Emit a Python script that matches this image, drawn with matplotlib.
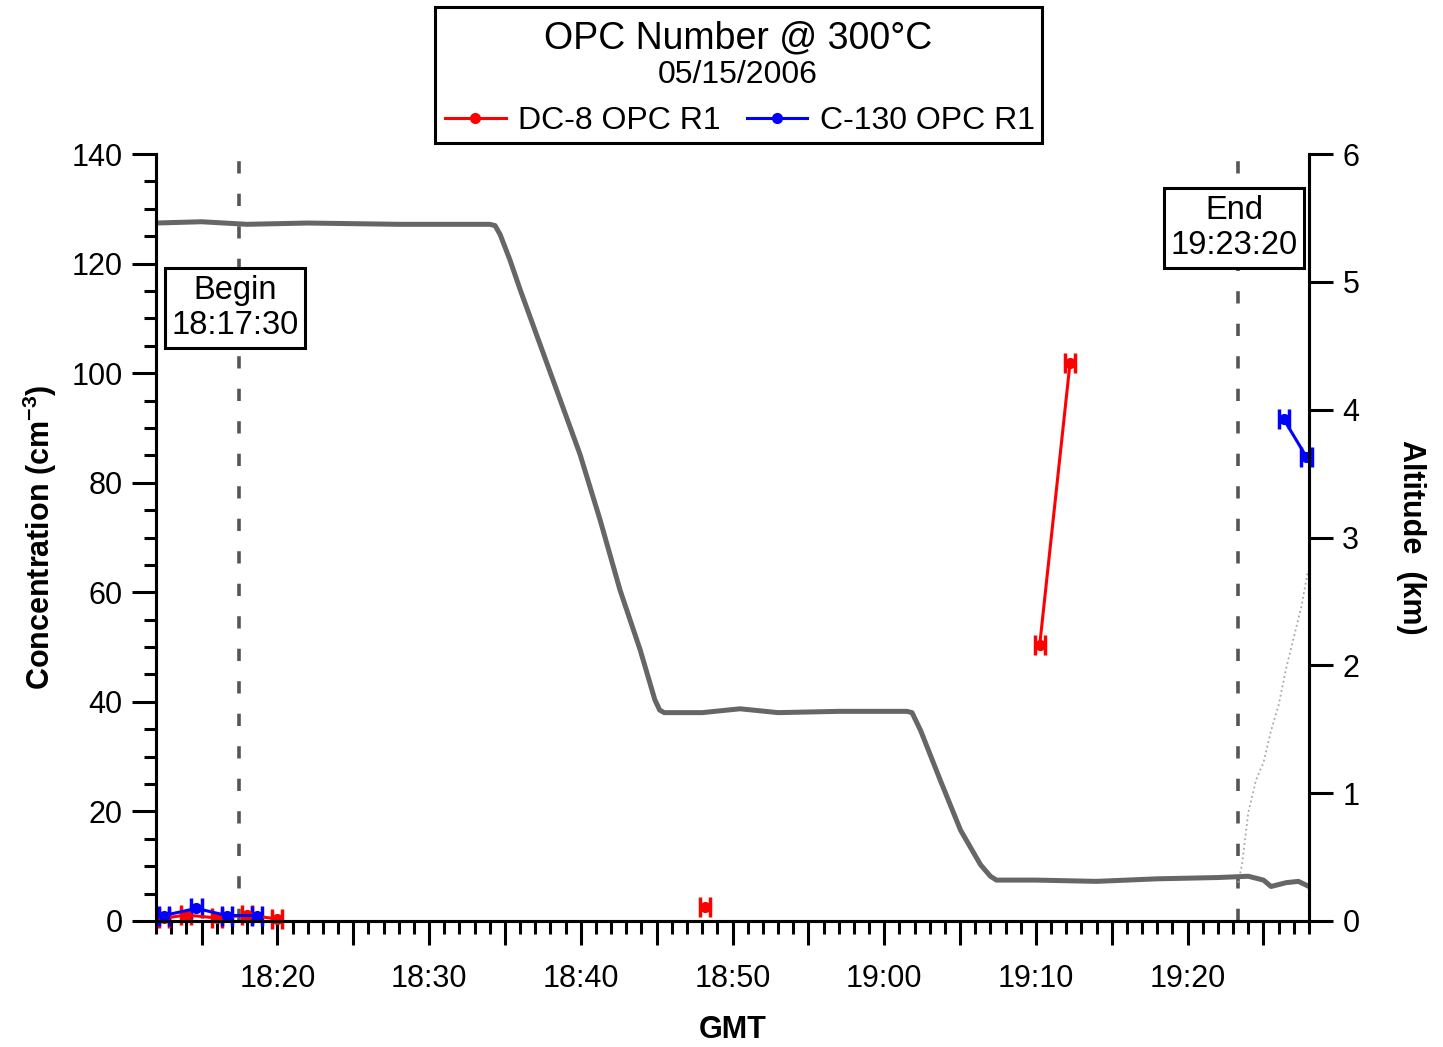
import matplotlib
matplotlib.use("Agg")
import matplotlib.pyplot as plt
import matplotlib.dates as mdates
import matplotlib.patches as mpatches
from matplotlib.lines import Line2D
from matplotlib.ticker import FuncFormatter, MultipleLocator
import numpy as np
import pandas as pd

plt.rcParams["font.family"] = ["Liberation Sans", "DejaVu Sans"]
plt.rcParams["mathtext.fontset"] = "custom"
plt.rcParams["mathtext.rm"] = "Liberation Sans"
plt.rcParams["mathtext.bf"] = "Liberation Sans:bold"

FECHA = "2006-05-15 "

# DC-8 OPC R1 (cm-3)
dc8_horas = ["18:12:30", "18:14:00", "18:16:00", "18:18:00", "18:20:00",
             "18:34:00", "18:48:10", "19:00:00", "19:10:15", "19:12:15"]
dc8_conc = [0.5, 1.1, 0.55, 1.1, 0.37, np.nan, 2.6, np.nan, 50.4, 101.9]

# C-130 OPC R1 (cm-3)
c130_horas = ["18:12:30", "18:14:40", "18:16:40", "18:18:40", "18:40:00",
              "19:26:20", "19:27:50"]
c130_conc = [1.0, 2.3, 1.0, 1.0, np.nan, 91.6, 84.7]

# altitud DC-8 (km)
alt_horas = ["18:12:00", "18:15:00", "18:18:00", "18:22:00", "18:28:00",
             "18:34:00", "18:34:21", "18:34:41", "18:35:20", "18:36:00",
             "18:37:19", "18:38:38", "18:39:57", "18:41:16", "18:42:35",
             "18:43:55", "18:44:53", "18:45:12", "18:45:30", "18:48:00",
             "18:50:30", "18:53:00", "18:57:00", "19:01:30", "19:01:50",
             "19:02:24", "19:03:42", "19:05:02", "19:06:21", "19:07:00",
             "19:07:24", "19:10:00", "19:14:00", "19:18:00", "19:22:00",
             "19:24:00", "19:25:00", "19:25:30", "19:26:30", "19:27:18",
             "19:28:00"]
alt_km = [5.46, 5.47, 5.45, 5.46, 5.45,
          5.45, 5.44, 5.37, 5.17, 4.94,
          4.51, 4.08, 3.65, 3.14, 2.59,
          2.12, 1.73, 1.65, 1.63, 1.63,
          1.66, 1.63, 1.64, 1.64, 1.63,
          1.49, 1.10, 0.71, 0.44, 0.35,
          0.32, 0.32, 0.31, 0.33, 0.34,
          0.35, 0.32, 0.27, 0.30, 0.31,
          0.27]

# altitud C-130 (km)
alt2_horas = ["19:23:20", "19:23:35", "19:24:00", "19:24:30", "19:25:00",
              "19:25:30", "19:26:00", "19:26:30", "19:27:00", "19:27:30",
              "19:27:54"]
alt2_km = [0.30, 0.44, 0.85, 1.10, 1.24, 1.49, 1.69, 1.98, 2.22, 2.46, 2.72]

inicio = "18:17:30"
fin = "19:23:20"


def a_num(horas):
    return mdates.date2num(pd.to_datetime([FECHA + h for h in horas]))


ERR = 20 / 86400.0  # +-20 s

fig = plt.figure(figsize=(14.43, 10.47), dpi=100)
ax = fig.add_axes([156 / 1443, 1 - 921 / 1047, 1153 / 1443, 767 / 1047])
ax2 = ax.twinx()
ax.set_zorder(2)
ax.patch.set_visible(False)

for h in (inicio, fin):
    ax2.axvline(a_num([h])[0], color="#555555", lw=2.6,
                linestyle=(0, (3.4, 5.6)), zorder=1)

ax2.plot(a_num(alt2_horas), alt2_km, color="#a8a8a8", lw=1.3, linestyle=":",
         zorder=2)
ax2.plot(a_num(alt_horas), alt_km, color="#666666", lw=3.6, zorder=3)

for horas, conc, col in ((dc8_horas, dc8_conc, "red"),
                         (c130_horas, c130_conc, "blue")):
    cont = ax.errorbar(a_num(horas), conc, xerr=ERR, fmt="-o", color=col,
                       lw=2.2, ms=7, elinewidth=3, capsize=7.5, capthick=2.5)
    for art in cont.get_children():
        art.set_clip_on(False)

# ejes
x0, x1 = a_num(["18:12:00", "19:28:00"])
ax.set_xlim(x0, x1)
ax.set_ylim(0, 140)
ax2.set_ylim(0, 6)

ax.xaxis.set_major_locator(mdates.MinuteLocator(byminute=range(0, 60, 5)))
ax.xaxis.set_minor_locator(mdates.MinuteLocator())


def fmt_hora(v, pos):
    m = int(round(v * 1440))
    if m % 10:
        return ""
    return f"{(m // 60) % 24:02d}:{m % 60:02d}"


ax.xaxis.set_major_formatter(FuncFormatter(fmt_hora))
ax.yaxis.set_major_locator(MultipleLocator(20))
ax.yaxis.set_minor_locator(MultipleLocator(5))
ax2.yaxis.set_major_locator(MultipleLocator(1))

for a in (ax, ax2):
    a.spines["top"].set_visible(False)
    for s in a.spines.values():
        s.set_linewidth(2.2)
    a.tick_params(which="major", length=17, width=2.2, labelsize=22, pad=7)
    a.tick_params(which="minor", length=9, width=2.2)
ax.tick_params(axis="x", which="major", pad=14)

ax.set_xlabel("GMT", fontsize=22, fontweight="bold", labelpad=15)
ax.set_ylabel(r"Concentration (cm$^{\mathbf{-3}}$)", fontsize=22,
              fontweight="bold", labelpad=9)
ax2.set_ylabel("Altitude  (km)", fontsize=22, fontweight="bold",
               rotation=270, labelpad=48)

caja = dict(boxstyle="square,pad=0.2", facecolor="white", edgecolor="black",
            lw=2.2)
ax.text(0.0685, 0.799, "Begin\n18:17:30", transform=ax.transAxes,
        fontsize=23.5, ha="center", va="center", bbox=caja, zorder=5,
        linespacing=1.18)
ax.text(0.935, 0.9035, "End\n19:23:20", transform=ax.transAxes,
        fontsize=23.5, ha="center", va="center", bbox=caja, zorder=5,
        linespacing=1.18)

# cabecera con titulo y leyenda
fig.patches.append(mpatches.Rectangle((435 / 1443, 1 - 143 / 1047),
                                      607 / 1443, 136 / 1047,
                                      transform=fig.transFigure, fill=False,
                                      edgecolor="black", lw=2.2))
fig.text(738 / 1443, 1 - 38 / 1047, "OPC Number @ 300°C", fontsize=27,
         ha="center", va="center")
fig.text(738 / 1443, 1 - 75 / 1047, "05/15/2006", fontsize=23,
         ha="center", va="center")
handles = [Line2D([], [], color="red", lw=2.2, marker="o", ms=7),
           Line2D([], [], color="blue", lw=2.2, marker="o", ms=7)]
fig.legend(handles, ["DC-8 OPC R1", "C-130 OPC R1"], loc="center",
           bbox_to_anchor=(740 / 1443, 1 - 121 / 1047), ncol=2, frameon=False,
           fontsize=23, handlelength=1.9, handletextpad=0.4,
           columnspacing=0.8)

fig.savefig("out.png", dpi=100, facecolor="white")
